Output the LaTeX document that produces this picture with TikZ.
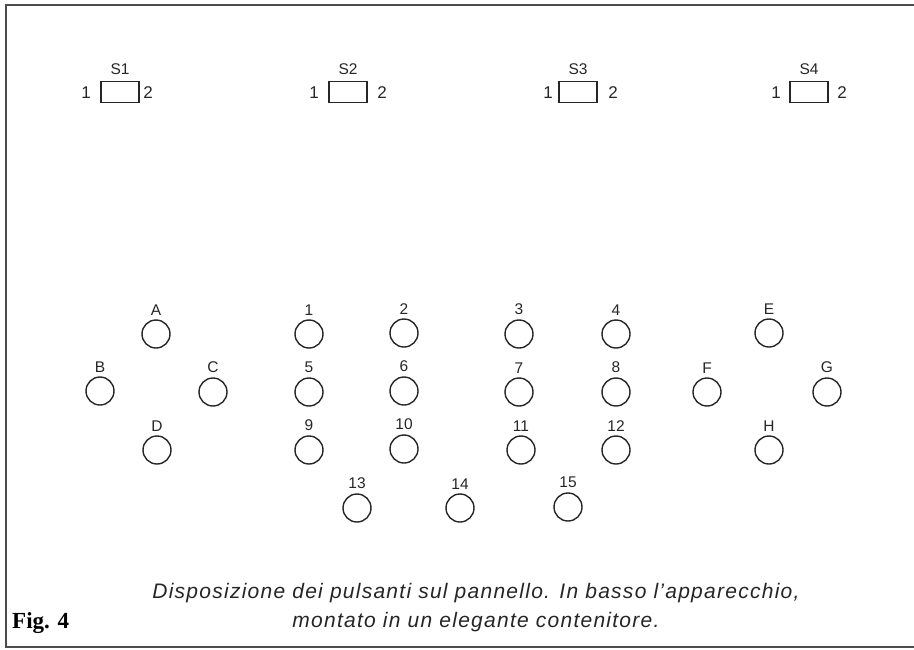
\documentclass[tikz,border=0pt]{standalone}
\usepackage{fontspec}
\setmainfont{Liberation Sans}
\newfontfamily\figfont{Liberation Serif}
\newfontfamily\capfont[LetterSpace=6]{Liberation Sans}
\usetikzlibrary{positioning}
\begin{document}
\begin{tikzpicture}[x=1pt,y=-1pt,
  btn/.style={circle,draw=black!85,line width=1.4pt,minimum size=28pt,inner sep=0pt},
  lbl/.style={font=\fontsize{15.5}{17}\selectfont,inner sep=0pt,text=black!85},
  pin/.style={font=\fontsize{17}{19}\selectfont,inner sep=0pt,text=black!85},
  sw/.style={draw=black!85,line width=1.3pt,minimum width=38pt,minimum height=21pt,inner sep=0pt},
  captext/.style={font=\capfont\fontsize{21}{24}\selectfont\itshape,inner sep=0pt,text=black!85}]
\useasboundingbox (0,0) rectangle (914,649);
\fill[white] (0,0) rectangle (914,649);
\draw[line width=2pt,black!70] (914,5) -- (6,5) -- (6,647) -- (914,647);
% switches
\foreach \n/\x/\lx/\rx in {1/120/86/148, 2/348/314/382, 3/578/548/613, 4/809/776/842}{
  \node[sw] (s\n) at (\x,92) {};
  \node[lbl,above=6pt of s\n] (s\n t) {S\n};
  \node[pin] (s\n a) at (\lx,93) {1};
  \node[pin] (s\n b) at (\rx,93) {2};
}
% buttons
\foreach \name/\x/\y in {A/156/334, B/100/391, C/213/392, D/157/450,
  1/309/334, 5/309/392, 9/309/450,
  2/404/333, 6/404/391, 10/404/449,
  3/519/334, 7/519/392, 11/521/450,
  4/616/334, 8/616/392, 12/616/450,
  E/769/333, F/707/392, G/827/392, H/769/450,
  13/357/508, 14/460/508, 15/568/507}{
  \node[btn] (b\name) at (\x,\y) {};
  \node[lbl,above=4pt of b\name] (l\name) {\name};
}
\node[captext] (c1) at (476,593) {Disposizione dei pulsanti sul pannello. In basso l’apparecchio,};
\node[captext] (c2) at (476,622) {montato in un elegante contenitore.};
\node[font=\figfont\bfseries\fontsize{23}{26}\selectfont,inner sep=0pt,anchor=west] (fig) at (12,623) {Fig. 4};
\end{tikzpicture}
\end{document}
